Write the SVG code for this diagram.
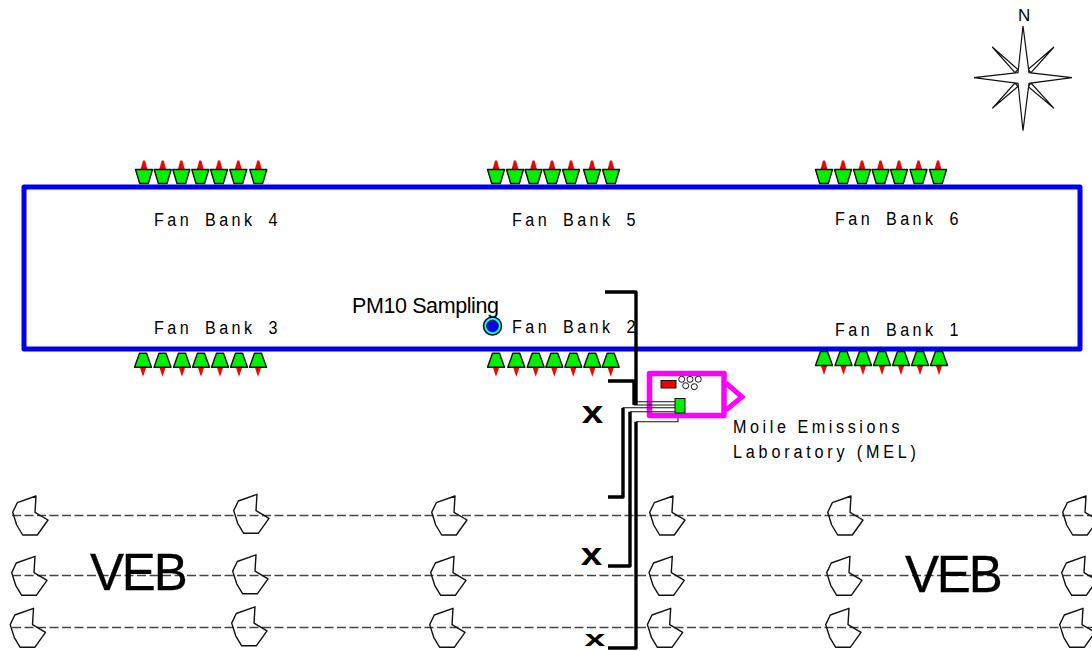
<svg xmlns="http://www.w3.org/2000/svg" width="1092" height="651" viewBox="0 0 1092 651">
<style>
text{font-family:"Liberation Sans",Arial,sans-serif;fill:#000}
.fb{font-size:19px;letter-spacing:4px;word-spacing:6px}
.big{font-size:51px;letter-spacing:-2.2px;stroke:#000;stroke-width:.3}
.lab{font-size:19px}
.x{font-size:31px;font-weight:bold}
.fan{fill:#00f000;stroke:#111;stroke-width:1.4;stroke-linejoin:round}
.arr{fill:#f80000}
.blob{fill:none;stroke:#111;stroke-width:1.4;stroke-linejoin:round}
.dash{fill:none;stroke:#444;stroke-width:1.5;stroke-dasharray:9 3.5}
.thick{fill:none;stroke:#000;stroke-width:3.4;stroke-linejoin:round}
.thin{fill:none;stroke:#111;stroke-width:1.1}
.star{fill:#fff;stroke:#111;stroke-width:1.2;stroke-linejoin:miter}
</style>
<defs>
<g id="fanD"><path class="arr" d="M-3.500 -9.500L-1 -18.500L1 -18.500L3.500 -9.500Z"/><path class="fan" d="M-8.500 -9.500H8.500L4.300 4.500H-4.300Z"/></g>
<g id="fanU"><path class="arr" d="M-3.500 13L0 23.500L3.500 13Z"/><path class="fan" d="M-3.500 0H3.500L8.500 14H-8.500Z"/></g>
<path id="blobS" class="blob" d="M0 0L-18.700 6.700L-23.300 16.300L-19.300 29L-13.300 39L1.300 39L12 24L-1 16.300Z"/>
</defs>

<g id="wind-lines">
<path class="dash" d="M12 515.500H1092"/>
<path class="dash" d="M12 575.500H1092"/>
<path class="dash" d="M12 627.500H1092"/>
</g>
<g id="blobs">
<use href="#blobS" x="36" y="496"/><use href="#blobS" x="257" y="494.300"/><use href="#blobS" x="455" y="496"/><use href="#blobS" x="673" y="496"/><use href="#blobS" x="851" y="496"/><use href="#blobS" x="1086" y="496"/>
<use href="#blobS" x="35" y="556.300"/><use href="#blobS" x="256" y="554.800"/><use href="#blobS" x="454" y="556.300"/><use href="#blobS" x="672.300" y="556.300"/><use href="#blobS" x="850" y="556.300"/><use href="#blobS" x="1085" y="556.300"/>
<use href="#blobS" x="33.500" y="608.300"/><use href="#blobS" x="255" y="606.800"/><use href="#blobS" x="453" y="608.300"/><use href="#blobS" x="670.700" y="608.300"/><use href="#blobS" x="849" y="608.300"/><use href="#blobS" x="1083" y="608.300"/>
</g>

<g id="building"><rect x="24" y="187" width="1056" height="162" fill="none" stroke="#0000f0" stroke-width="5" stroke-linejoin="round"/></g>

<g id="fan-bank-4">
<use href="#fanD" x="144" y="179"/><use href="#fanD" x="162.700" y="179"/><use href="#fanD" x="181.300" y="179"/><use href="#fanD" x="200.300" y="179"/><use href="#fanD" x="219" y="179"/><use href="#fanD" x="238.300" y="179"/><use href="#fanD" x="258.300" y="179"/>
<text class="fb" transform="translate(154 226) scale(.85 1)">Fan Bank 4</text></g>
<g id="fan-bank-5">
<use href="#fanD" x="496" y="179"/><use href="#fanD" x="515" y="179"/><use href="#fanD" x="533.500" y="179"/><use href="#fanD" x="552" y="179"/><use href="#fanD" x="571" y="179"/><use href="#fanD" x="592" y="179"/><use href="#fanD" x="611" y="179"/>
<text class="fb" transform="translate(512 226) scale(.85 1)">Fan Bank 5</text></g>
<g id="fan-bank-6">
<use href="#fanD" x="824" y="179"/><use href="#fanD" x="843" y="179"/><use href="#fanD" x="862" y="179"/><use href="#fanD" x="880.500" y="179"/><use href="#fanD" x="899" y="179"/><use href="#fanD" x="918.500" y="179"/><use href="#fanD" x="938" y="179"/>
<text class="fb" transform="translate(835 225) scale(.85 1)">Fan Bank 6</text></g>
<g id="fan-bank-3">
<use href="#fanU" x="143" y="353.300"/><use href="#fanU" x="162.500" y="353.300"/><use href="#fanU" x="182" y="353.300"/><use href="#fanU" x="201" y="353.300"/><use href="#fanU" x="220" y="353.300"/><use href="#fanU" x="239" y="353.300"/><use href="#fanU" x="258" y="353.300"/>
<text class="fb" transform="translate(154 334) scale(.85 1)">Fan Bank 3</text></g>
<g id="fan-bank-2">
<use href="#fanU" x="496" y="353.300"/><use href="#fanU" x="516.300" y="353.300"/><use href="#fanU" x="535.700" y="353.300"/><use href="#fanU" x="554.300" y="353.300"/><use href="#fanU" x="573.300" y="353.300"/><use href="#fanU" x="592.300" y="353.300"/><use href="#fanU" x="610.700" y="353.300"/>
<text class="fb" transform="translate(512 333) scale(.85 1)">Fan Bank 2</text></g>
<g id="fan-bank-1">
<use href="#fanU" x="824" y="351.500"/><use href="#fanU" x="843.500" y="351.500"/><use href="#fanU" x="863" y="351.500"/><use href="#fanU" x="882" y="351.500"/><use href="#fanU" x="901" y="351.500"/><use href="#fanU" x="920" y="351.500"/><use href="#fanU" x="939" y="351.500"/>
<text class="fb" transform="translate(835 336) scale(.85 1)">Fan Bank 1</text></g>

<g id="pm10-sampling">
<circle cx="492.500" cy="326" r="9" fill="#00ffff" stroke="#111" stroke-width="1.5"/>
<circle cx="492.500" cy="326" r="5.800" fill="#0000f0" stroke="#111" stroke-width="1"/>
<text x="352" y="313" font-size="21.500" letter-spacing="-.4">PM10 Sampling</text></g>

<g id="connectors">
<path class="thick" d="M605 292H636V405"/>
<path class="thick" d="M608 381H634V405"/>
<path class="thick" d="M636 421.700V648H608"/>
<path class="thick" d="M630 411.700V566H608"/>
<path class="thick" d="M623 407.700V497H608"/>
<path class="thin" d="M636 421.700H678V413"/>
</g>

<g id="mel">
<path d="M726 383L742 397L726 410" fill="none" stroke="#ff00ff" stroke-width="5"/>
<rect x="649.500" y="373.500" width="74.500" height="42" fill="none" stroke="#ff00ff" stroke-width="5.500" stroke-linejoin="round"/>
<path class="thin" d="M634 401.700H675M634 405H675M623 407.700H675M630 411.700H675"/>
<rect x="661" y="380.500" width="15" height="7.500" fill="#f00000" stroke="#111" stroke-width="1"/>
<g fill="#fff" stroke="#111" stroke-width="1"><circle cx="681.700" cy="379.300" r="3"/><circle cx="690" cy="379.300" r="3"/><circle cx="698.300" cy="379.300" r="3"/><circle cx="685.700" cy="385.700" r="3"/><circle cx="694.300" cy="386.700" r="3"/></g>
<rect x="675" y="398.500" width="10" height="14.500" fill="#00f000" stroke="#111" stroke-width="1"/>
<text class="lab" letter-spacing="4.200" transform="translate(733 433) scale(.85 1)">Moile Emissions</text>
<text class="lab" letter-spacing="4.500" transform="translate(733 458) scale(.85 1)">Laboratory (MEL)</text></g>

<g id="markers">
<text class="x" text-anchor="middle" transform="translate(592.500 423) scale(1.25 1)">x</text>
<text class="x" text-anchor="middle" transform="translate(591.500 565) scale(1.25 1)">x</text>
<text class="x" style="font-size:22px" text-anchor="middle" transform="translate(595 646) scale(1.7 1)">x</text>
</g>

<g id="veb-left"><text class="big" x="90" y="590">VEB</text></g>
<g id="veb-right"><text class="big" x="905" y="592">VEB</text></g>

<g id="compass">
<path class="star" d="M992.300 47L1015 72.700L1018 69.500Z"/>
<path class="star" d="M1054 47L1031 72.700L1028 69.500Z"/>
<path class="star" d="M1054 108.300L1031 83L1028 86.500Z"/>
<path class="star" d="M992.300 108.300L1015 83L1018 86.500Z"/>
<path class="star" d="M1023 26L1029 72.700L1072 77.700L1029 83.300L1023 130.700L1018 83.300L974 77.700L1018 72.700Z"/>
<text x="1018" y="21" font-size="17">N</text></g>
</svg>
